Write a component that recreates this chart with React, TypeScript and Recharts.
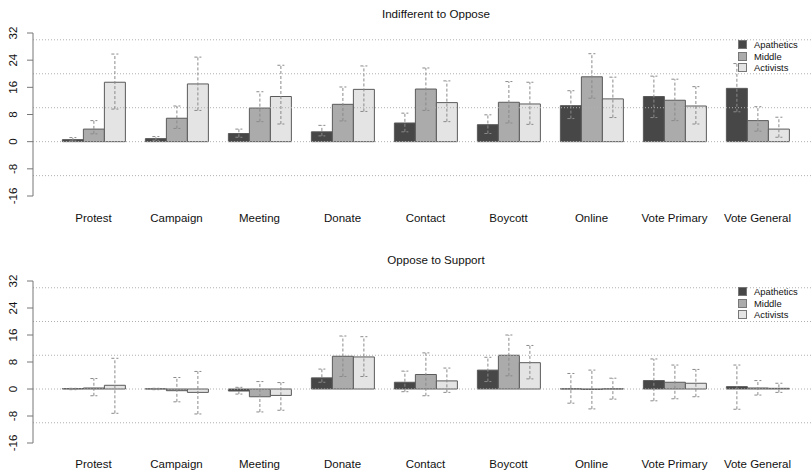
import { Bar, ComposedChart, ErrorBar, ReferenceLine, XAxis, YAxis } from "recharts";

const categories = [
  "Protest",
  "Campaign",
  "Meeting",
  "Donate",
  "Contact",
  "Boycott",
  "Online",
  "Vote Primary",
  "Vote General",
];

const yTicks = [-16, -8, 0, 8, 16, 24, 32];
const gridLevels = [-10, 0, 10, 20, 30];

// Indifferent to Oppose: bar value and interval bounds
const apathTop = [0.6, 0.9, 2.4, 2.9, 5.5, 5.0, 10.6, 13.3, 15.7];
const apathTopLo = [0.2, 0.4, 1.3, 1.7, 2.9, 2.4, 6.8, 7.1, 8.8];
const apathTopHi = [1.2, 1.5, 3.7, 4.8, 8.4, 7.9, 15.0, 19.3, 23.0];
const midTop = [3.7, 6.9, 9.9, 11.0, 15.5, 11.6, 19.1, 12.2, 6.2];
const midTopLo = [2.3, 3.9, 5.9, 6.1, 9.2, 5.5, 12.8, 6.2, 3.1];
const midTopHi = [6.2, 10.5, 14.7, 16.1, 21.7, 17.7, 25.9, 18.4, 10.3];
const actTop = [17.5, 17.0, 13.3, 15.4, 11.5, 11.1, 12.6, 10.5, 3.7];
const actTopLo = [9.6, 9.2, 5.2, 8.9, 5.9, 5.1, 7.1, 5.2, 1.3];
const actTopHi = [25.8, 24.9, 22.5, 22.3, 17.9, 17.5, 19.0, 16.2, 7.2];

// Oppose to Support
const apathBot = [0.1, 0.05, -0.6, 3.3, 2.0, 5.6, 0.05, 2.5, 0.7];
const apathBotLo = [-0.2, -0.2, -1.5, 2.0, -0.8, 2.2, -4.2, -3.5, -6.0];
const apathBotHi = [0.2, 0.2, 0.5, 5.9, 5.3, 9.4, 4.6, 8.9, 7.1];
const midBot = [0.3, -0.5, -2.3, 9.7, 4.3, 10.0, -0.1, 2.0, 0.3];
const midBotLo = [-2.0, -3.8, -6.8, 3.7, -2.0, 3.9, -5.9, -2.9, -1.8];
const midBotHi = [3.1, 3.4, 2.2, 15.7, 10.7, 16.0, 5.6, 7.1, 2.5];
const actBot = [1.1, -1.0, -1.9, 9.5, 2.4, 7.8, 0.05, 1.7, 0.2];
const actBotLo = [-7.2, -7.4, -6.3, 3.7, -1.0, 3.0, -3.0, -2.3, -1.0];
const actBotHi = [9.1, 5.2, 1.9, 15.5, 6.2, 12.9, 3.2, 5.8, 1.7];

const groups = ["Apathetics", "Middle", "Activists"];
const fills = ["#474747", "#ababab", "#e4e4e4"];

const FONT = "'Liberation Sans', Arial, Helvetica, sans-serif";

type Series = { v: number[]; lo: number[]; hi: number[] };

function buildRows(a: Series, m: Series, c: Series) {
  return categories.map((name, i) => ({
    name,
    a: a.v[i],
    aErr: [a.v[i] - a.lo[i], a.hi[i] - a.v[i]],
    m: m.v[i],
    mErr: [m.v[i] - m.lo[i], m.hi[i] - m.v[i]],
    c: c.v[i],
    cErr: [c.v[i] - c.lo[i], c.hi[i] - c.v[i]],
  }));
}

const topRows = buildRows(
  { v: apathTop, lo: apathTopLo, hi: apathTopHi },
  { v: midTop, lo: midTopLo, hi: midTopHi },
  { v: actTop, lo: actTopLo, hi: actTopHi }
);
const bottomRows = buildRows(
  { v: apathBot, lo: apathBotLo, hi: apathBotHi },
  { v: midBot, lo: midBotLo, hi: midBotHi },
  { v: actBot, lo: actBotLo, hi: actBotHi }
);

function YTick(props: any) {
  const { y, payload } = props;
  return (
    <text
      x={17}
      y={y}
      transform={`rotate(-90, 17, ${y})`}
      textAnchor="middle"
      fontSize={11.5}
      fontFamily={FONT}
      fill="#111"
    >
      {payload.value}
    </text>
  );
}

function makeXTick(drop: number) {
  return (props: any) => {
    const { x, y, payload } = props;
    return (
      <text x={x} y={y + drop} textAnchor="middle" fontSize={11.5} fontFamily={FONT} fill="#111">
        {payload.value}
      </text>
    );
  };
}

function Panel({
  title,
  rows,
  top,
  height,
  marginTop,
  marginBottom,
  titleY,
  legendY,
  tickDrop,
}: {
  title: string;
  rows: any[];
  top: number;
  height: number;
  marginTop: number;
  marginBottom: number;
  titleY: number;
  legendY: number;
  tickDrop: number;
}) {
  const keys = ["a", "m", "c"];
  return (
    <div style={{ position: "absolute", left: 0, top, width: 811, height }}>
      <div
        style={{
          position: "absolute",
          left: 336,
          width: 200,
          top: titleY,
          textAlign: "center",
          fontFamily: FONT,
          fontSize: 11.6,
          color: "#111",
          lineHeight: "14px",
        }}
      >
        {title}
      </div>
      <ComposedChart
        width={811}
        height={height}
        data={rows}
        margin={{ top: marginTop, right: 0, bottom: marginBottom, left: 0 }}
        barCategoryGap="12.5%"
        barGap={0}
      >
        <XAxis
          dataKey="name"
          axisLine={false}
          tickLine={false}
          tickSize={0}
          tickMargin={0}
          height={30}
          interval={0}
          padding={{ left: 19, right: 12 }}
          tick={makeXTick(tickDrop)}
        />
        <YAxis
          domain={[-16, 32]}
          ticks={yTicks}
          allowDataOverflow
          width={33}
          tickSize={6}
          axisLine={{ stroke: "#777" }}
          tickLine={{ stroke: "#777" }}
          tick={<YTick />}
        />
        {gridLevels.map((g) => (
          <ReferenceLine key={g} y={g} stroke="#b0b0b0" strokeDasharray="1 2" />
        ))}
        {keys.map((k, i) => (
          <Bar
            key={k}
            dataKey={k}
            fill={fills[i]}
            stroke="#5a5a5a"
            strokeWidth={1}
            isAnimationActive={false}
          >
            <ErrorBar
              dataKey={k + "Err"}
              width={3.5}
              stroke="#8a8a8a"
              strokeWidth={1}
              strokeDasharray="3 2"
              direction="y"
            />
          </Bar>
        ))}
      </ComposedChart>
      <div style={{ position: "absolute", left: 738, top: legendY, fontFamily: FONT, fontSize: 9.4 }}>
        {groups.map((g, i) => (
          <div key={g} style={{ display: "flex", alignItems: "center", height: 11.5 }}>
            <span
              style={{
                display: "inline-block",
                width: 7,
                height: 7,
                background: fills[i],
                border: "1px solid #777",
                marginRight: 7,
              }}
            />
            <span style={{ color: "#111" }}>{g}</span>
          </div>
        ))}
      </div>
    </div>
  );
}

export default function App() {
  return (
    <div style={{ position: "absolute", left: 0, top: 0, width: 811, height: 473, background: "#fff" }}>
      <Panel
        title="Indifferent to Oppose"
        rows={topRows}
        top={0}
        height={240}
        marginTop={33}
        marginBottom={14}
        titleY={7}
        legendY={39}
        tickDrop={26}
      />
      <Panel
        title="Oppose to Support"
        rows={bottomRows}
        top={240}
        height={233}
        marginTop={41}
        marginBottom={0}
        titleY={13}
        legendY={46}
        tickDrop={25}
      />
    </div>
  );
}
